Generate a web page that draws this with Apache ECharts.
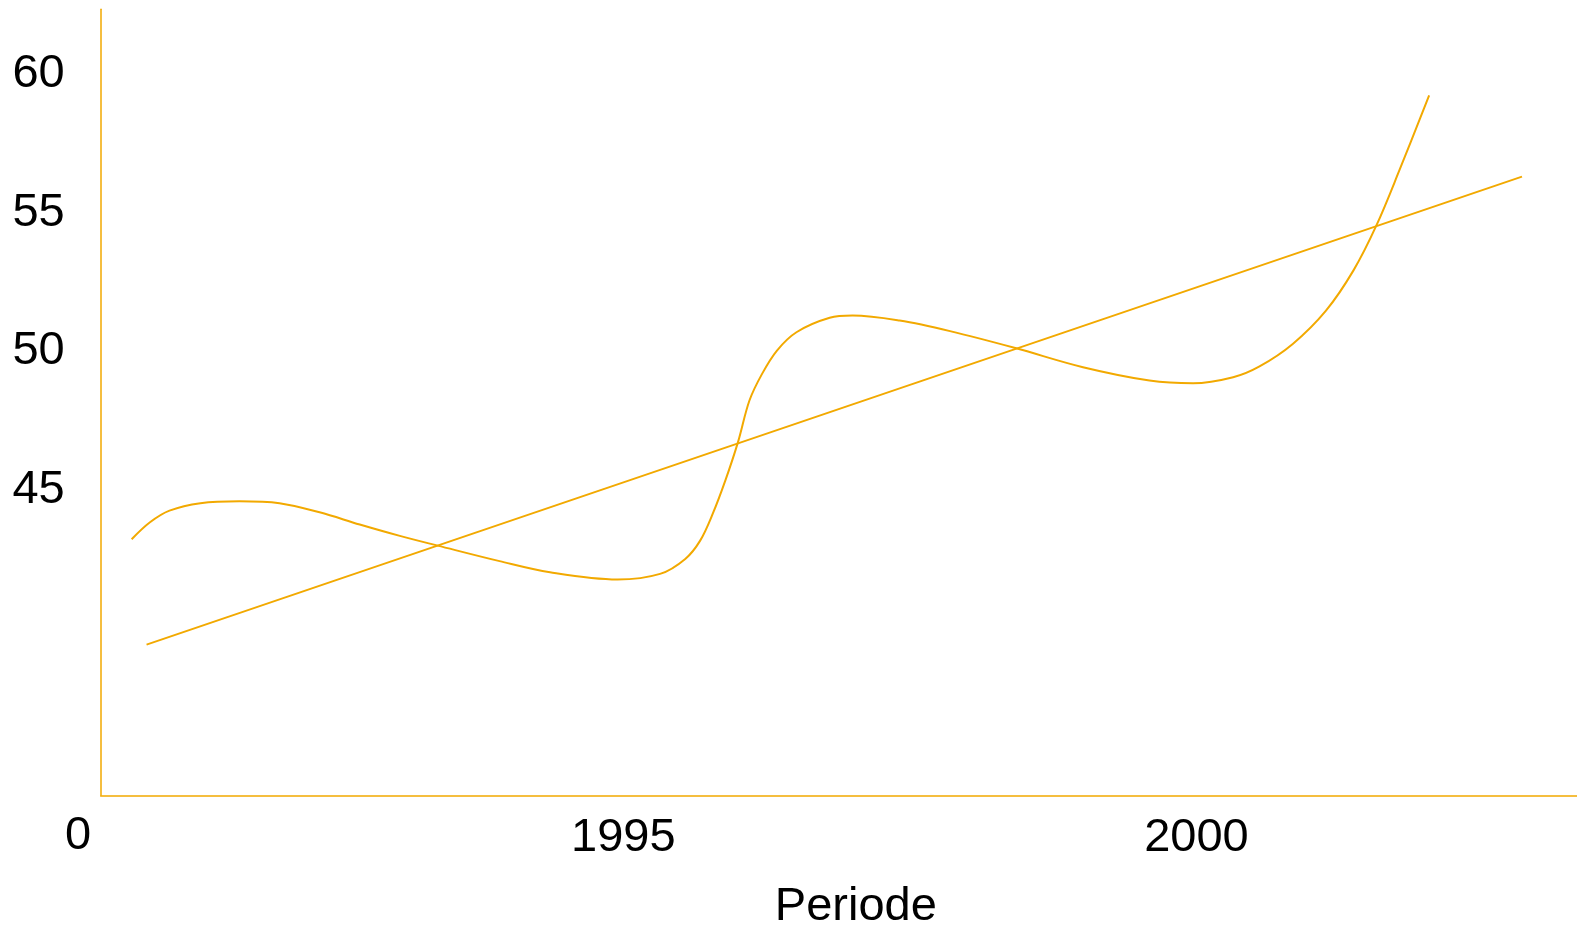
<!DOCTYPE html>
<html>
<head>
<meta charset="utf-8">
<script src="https://cdn.jsdelivr.net/npm/echarts@6/dist/echarts.min.js"></script>
<style>
html,body{margin:0;padding:0;background:#fff;}
#chart{width:1577px;height:925px;}
</style>
</head>
<body>
<div id="chart"></div>
<script>
// ---- data ----
const curveYears = [1990.71, 1990.87, 1991.04, 1991.31, 1991.65, 1992.00, 1992.35, 1992.70, 1993.05, 1993.38,
  1993.92, 1994.36, 1994.95, 1995.32, 1995.54, 1995.67, 1995.78, 1995.89, 1996.00, 1996.10,
  1996.21, 1996.34, 1996.51, 1996.80, 1997.00, 1997.41, 1997.85, 1998.42, 1999.01, 1999.59,
  1999.97, 2000.32, 2000.55, 2000.84, 2001.13, 2001.37, 2001.57, 2001.77, 2002.03];
const curveValues = [43.23, 43.84, 44.26, 44.53, 44.60, 44.53, 44.20, 43.76, 43.35, 43.00,
  42.44, 42.04, 41.78, 41.98, 42.52, 43.18, 44.15, 45.35, 46.73, 48.23,
  49.19, 50.03, 50.69, 51.21, 51.29, 51.11, 50.73, 50.12, 49.43, 48.95,
  48.85, 49.07, 49.46, 50.27, 51.47, 52.92, 54.54, 56.52, 59.23];
const trendYears = [1990.84, 2002.84];
const trendValues = [39.43, 56.30];
const xTicks = [1995, 2000];
const yTicks = [45, 50, 55, 60];
const originLabel = '0';
const xName = 'Periode';

const COLOR = '#F2A900';
const FONT = 'Liberation Sans, Arial, sans-serif';
const FS = 47;

const chart = echarts.init(document.getElementById('chart'), null, {renderer: 'canvas'});
chart.setOption({
  animation: false,
  backgroundColor: '#fff',
  grid: {left: 100.7, right: 0, top: 9.3, bottom: 129.7, containLabel: false, outerBoundsMode: 'none'},
  xAxis: {
    type: 'value',
    min: 1990.44,
    max: 2003.32,
    name: xName,
    nameLocation: 'middle',
    nameGap: 88,
    nameTextStyle: {fontFamily: FONT, fontSize: FS, color: '#000', padding: [0, 0, 0, 34]},
    axisLine: {show: true, lineStyle: {color: COLOR, width: 1.5}},
    axisTick: {show: false},
    splitLine: {show: false},
    axisLabel: {
      customValues: xTicks,
      fontFamily: FONT, fontSize: FS, color: '#000', margin: 19,
      formatter: v => String(v)
    }
  },
  yAxis: {
    type: 'value',
    min: 34,
    max: 62.33,
    axisLine: {show: true, lineStyle: {color: COLOR, width: 1.5}},
    axisTick: {show: false},
    splitLine: {show: false},
    axisLabel: {
      customValues: yTicks,
      fontFamily: FONT, fontSize: FS, color: '#000', margin: 36,
      formatter: v => String(v)
    }
  },
  graphic: [{
    type: 'text',
    x: 78, y: 836,
    style: {text: originLabel, font: FS + 'px ' + FONT, fill: '#000', align: 'center', verticalAlign: 'middle'}
  }],
  series: [
    {
      type: 'line',
      data: curveYears.map((x, i) => [x, curveValues[i]]),
      smooth: 0.35,
      showSymbol: false,
      lineStyle: {color: COLOR, width: 2},
      itemStyle: {color: COLOR}
    },
    {
      type: 'line',
      data: trendYears.map((x, i) => [x, trendValues[i]]),
      showSymbol: false,
      lineStyle: {color: COLOR, width: 2},
      itemStyle: {color: COLOR}
    }
  ]
});
</script>
</body>
</html>
